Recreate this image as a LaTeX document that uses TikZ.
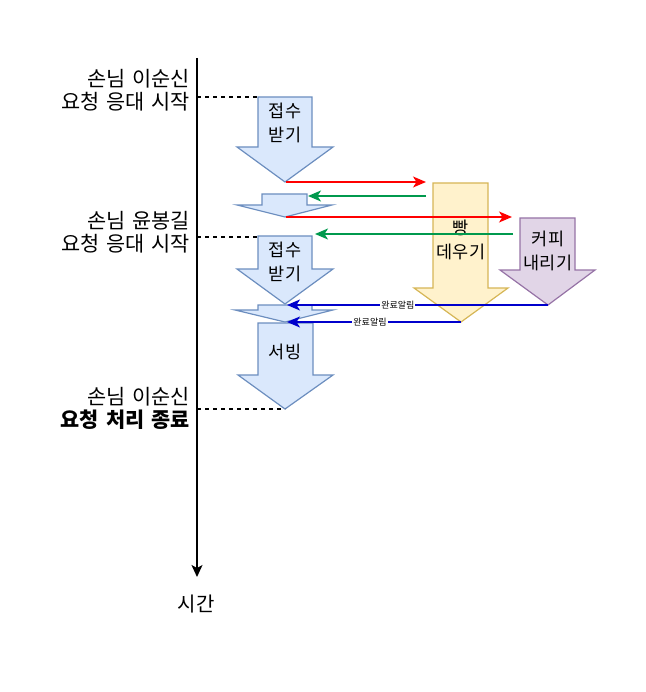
\documentclass[tikz,border=0pt]{standalone}
\usepackage{fontspec}
\setmainfont{Noto Sans CJK KR}
\newfontfamily\lblfont{Noto Sans CJK KR}[WordSpace=1.5]
\usepackage{xcolor}
\usepackage{tikz}
\usetikzlibrary{arrows.meta,calc}

\definecolor{rcvFill}{HTML}{DAE8FC}
\definecolor{rcvLine}{HTML}{6C8EBF}
\definecolor{heatFill}{HTML}{FFF2CC}
\definecolor{heatLine}{HTML}{D6B656}
\definecolor{brewFill}{HTML}{E1D5E7}
\definecolor{brewLine}{HTML}{9673A6}
\definecolor{ackGreen}{HTML}{00994D}
\definecolor{doneBlue}{HTML}{0000CC}

\begin{document}
\begin{tikzpicture}[
    x=1pt, y=-1pt,
    font=\fontsize{17.5}{24}\selectfont,
    every node/.style={align=center, inner sep=0pt},
    blk/.style={line width=1.2pt, line join=miter},
    rcvbox/.style={blk, fill=rcvFill, draw=rcvLine},
    heatbox/.style={blk, fill=heatFill, draw=heatLine},
    brewbox/.style={blk, fill=brewFill, draw=brewLine},
    lbl/.style={font=\lblfont\fontsize{20.8}{23}\selectfont, align=right, anchor=east},
    guide/.style={dash pattern=on 4pt off 4pt, line width=1.2pt},
    msg/.style={line width=1.5pt, -{Stealth[length=13pt, width=11pt, inset=3.5pt]}},
    req/.style ={msg, red},
    ack/.style ={msg, ackGreen},
    done/.style={msg, doneBlue},
    tag/.style ={font=\fontsize{9}{10}\selectfont, text=black, fill=white, inner sep=1pt}
]
\useasboundingbox (0,0) rectangle (645,692);

% =========================================================
% Time axis and customer labels
% =========================================================
\coordinate (time_top) at (197,58);
\coordinate (time_end) at (197,577);
\draw[line width=1.5pt, -{Stealth[length=12pt, width=11pt, inset=3pt]}] (time_top) -- (time_end);
\node (time) at (196,604) {\fontsize{20}{23}\selectfont 시간};

\node[lbl] (c1_start) at (190,90)  {손님 이순신\\요청 응대 시작};
\node[lbl] (c2_start) at (190,232) {손님 윤봉길\\요청 응대 시작};
\node[lbl] (c1_end)   at (190,408) {손님 이순신\\\textbf{요청 처리 종료}};

% =========================================================
% Counter: receive / wait / serve
% =========================================================
\draw[rcvbox] (258,97) -- (312,97) -- (312,147) -- (333,147) -- (285,182) -- (237,147) -- (258,147) -- cycle;
\node (recv1) at (285,123) {접수\\받기};

\draw[rcvbox] (262,194) -- (307,194) -- (307,205) -- (332,205) -- (285,217) -- (237,205) -- (262,205) -- cycle;

\draw[rcvbox] (258,236) -- (312,236) -- (312,269) -- (333,269) -- (285,304) -- (237,269) -- (258,269) -- cycle;
\node (recv2) at (285,262) {접수\\받기};

\draw[rcvbox] (258,305) -- (312,305) -- (312,310) -- (333,310) -- (285,322) -- (235,310) -- (258,310) -- cycle;

\draw[rcvbox] (258,323) -- (313,323) -- (313,375) -- (333,375) -- (285,409) -- (238,375) -- (258,375) -- cycle;
\node (serve) at (285,352) {서빙};

% =========================================================
% Kitchen: bread / coffee
% =========================================================
\draw[heatbox] (433,183) -- (488,183) -- (488,288) -- (508,288) -- (461,322) -- (414,288) -- (433,288) -- cycle;
\node (bread) at (461,240) {빵\\데우기};

\draw[brewbox] (520,218) -- (575,218) -- (575,270) -- (595,270) -- (548,305) -- (500,270) -- (520,270) -- cycle;
\node (coffee) at (548,251) {커피\\내리기};

% =========================================================
% Guides and messages
% =========================================================
\coordinate (t_recv1) at (197,97);
\coordinate (t_recv2) at (197,237);
\coordinate (t_end)   at (197,409);
\coordinate (recv1_nw) at (258,97);
\coordinate (recv2_nw) at (258,237);
\coordinate (serve_tip) at (285,409);
\draw[guide] (t_recv1) -- (recv1_nw);
\draw[guide] (t_recv2) -- (recv2_nw);
\draw[guide] (t_end) -- (serve_tip);

\coordinate (recv1_tip)  at (286,182);
\coordinate (wait1_tip)  at (286,217);
\coordinate (wait1_east) at (308,196);
\coordinate (recv2_east) at (315,234);
\coordinate (recv2_tip)  at (287,305);
\coordinate (wait2_tip)  at (287,322);
\coordinate (bread_in)   at (426,182);
\coordinate (bread_out)  at (426,196);
\coordinate (coffee_in)  at (512,217);
\coordinate (coffee_out) at (513,234);
\coordinate (bread_tip)  at (461,322);
\coordinate (coffee_tip) at (548,305);

\draw[req] (recv1_tip) -- (bread_in);
\draw[ack] (bread_out) -- (wait1_east);
\draw[req] (wait1_tip) -- (coffee_in);
\draw[ack] (coffee_out) -- (recv2_east);
\draw[done] (coffee_tip) -- node[tag, pos=0.575] (done1) {완료알림} (recv2_tip);
\draw[done] (bread_tip) -- node[tag, pos=0.523] (done2) {완료알림} (wait2_tip);

\end{tikzpicture}
\end{document}
